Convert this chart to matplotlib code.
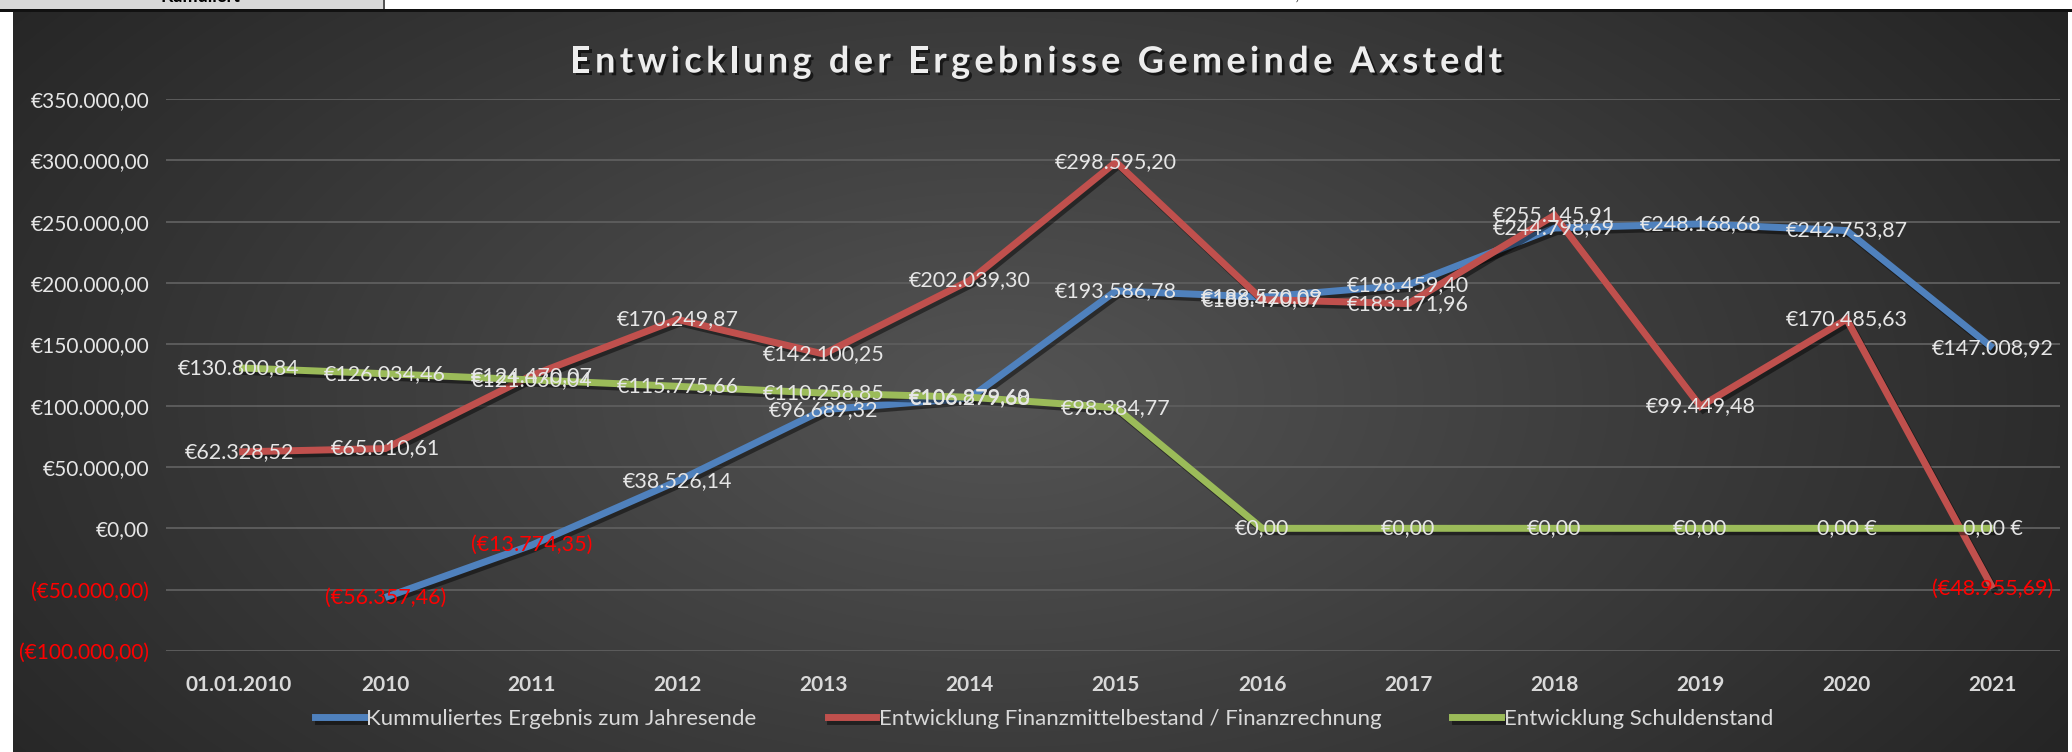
import numpy as np
import matplotlib
matplotlib.use("Agg")
import matplotlib.pyplot as plt
from matplotlib.patches import Rectangle
from matplotlib.lines import Line2D
import matplotlib.patheffects as pe

# ---------------- data ----------------
categories = ["01.01.2010", "2010", "2011", "2012", "2013", "2014", "2015",
              "2016", "2017", "2018", "2019", "2020", "2021"]
kumuliert = [np.nan, -56357.46, -13774.35, 38526.14, 96689.32, 106279.68,
             193586.78, 188520.09, 198459.40, 244798.69, 248168.68,
             242753.87, 147008.92]
finanzmittel = [62328.52, 65010.61, 124470.07, 170249.87, 142100.25,
                202039.30, 298595.20, 186470.07, 183171.96, 255145.91,
                99449.48, 170485.63, -48955.69]
schulden = [130800.84, 126034.46, 121030.04, 115775.66, 110258.85,
            106879.60, 98384.77, 0.0, 0.0, 0.0, 0.0, 0.0, 0.0]
schulden_suffix_format = [False] * 11 + [True] * 2
series_names = ["Kummuliertes Ergebnis zum Jahresende",
                "Entwicklung Finanzmittelbestand / Finanzrechnung",
                "Entwicklung Schuldenstand"]
title = "Entwicklung der Ergebnisse Gemeinde Axstedt"
y_ticks = [-100000, -50000, 0, 50000, 100000, 150000, 200000, 250000,
           300000, 350000]

FONT = ["Lato", "DejaVu Sans"]
plt.rcParams["font.family"] = FONT

W, H = 2072, 752


def de(v):
    s = f"{abs(v):,.2f}"
    return s.replace(",", "X").replace(".", ",").replace("X", ".")


def eur(v, suffix=False):
    if suffix:
        return de(v) + " €"
    if v < 0:
        return "(€" + de(v) + ")"
    if v == 0:
        return "€0,00"
    return "€" + de(v)


fig = plt.figure(figsize=(W / 100, H / 100), dpi=100)
fig.patch.set_facecolor("white")
renderer = fig.canvas.get_renderer()

# ---------------- top strip (spreadsheet remnant) ----------------
fig.add_artist(Rectangle((0, 1 - 9 / H), 383 / W, 9 / H, transform=fig.transFigure,
                         facecolor="#D9D9D9", edgecolor="none"))
fig.add_artist(Rectangle((383 / W, 1 - 9 / H), 1.5 / W, 9 / H, transform=fig.transFigure,
                         facecolor="#555555", edgecolor="none"))
fig.add_artist(Rectangle((0, 1 - 12 / H), 1, 3 / H, transform=fig.transFigure,
                         facecolor="#111111", edgecolor="none"))
fig.text(200 / W, 1 + 4 / H, "Kumuliert", ha="center", va="center",
         fontsize=13, fontweight="bold", color="black")
fig.text(1300 / W, 1 + 5 / H, "300,00 €", ha="center", va="center",
         fontsize=13, color="#333333")

# ---------------- chart background (radial gradient) ----------------
bg = fig.add_axes([13 / W, 0, (2068 - 13) / W, (H - 12) / H])
bg.set_axis_off()
ny, nx = 300, 800
yy, xx = np.mgrid[0:1:ny * 1j, 0:1:nx * 1j]
r = np.sqrt(((xx - 0.48) / 0.62) ** 2 + ((yy - 0.52) / 0.95) ** 2)
r = np.clip(r, 0, 1)
c0 = np.array([0x54, 0x54, 0x54]) / 255
c1 = np.array([0x24, 0x24, 0x24]) / 255
img = c0[None, None, :] * (1 - r[..., None]) + c1[None, None, :] * r[..., None]
bg.imshow(img, aspect="auto", extent=(0, 1, 0, 1), interpolation="bilinear")
bg.set_xlim(0, 1)
bg.set_ylim(0, 1)

# ---------------- main axes ----------------
left_px, right_px, top_px, bot_px = 166, 2060, 99, 651
ax = fig.add_axes([left_px / W, (H - bot_px) / H, (right_px - left_px) / W,
                   (bot_px - top_px) / H])
ax.set_facecolor("none")
x = np.arange(len(categories))
ax.set_xlim(-0.5, 12.46)
ax.set_ylim(-100000, 350000)
for s in ax.spines.values():
    s.set_visible(False)

ax.set_yticks(y_ticks)
ax.set_yticklabels([eur(v) for v in y_ticks])
for lab, v in zip(ax.get_yticklabels(), y_ticks):
    lab.set_color("#FF0000" if v < 0 else "#E6E6E6")
    lab.set_fontsize(15)
ax.tick_params(axis="y", length=0, pad=12)
ax.set_xticks(x)
ax.set_xticklabels(categories, fontweight="bold", fontsize=15, color="#D9D9D9")
ax.tick_params(axis="x", length=0, pad=17)
ax.yaxis.grid(True, color="#5c5c5c", linewidth=1.4)
ax.set_axisbelow(True)

colors = ["#4F81BD", "#C0504D", "#9BBB59"]
shadow = [pe.SimpleLineShadow(offset=(2, -2.5), shadow_color="black", alpha=0.45),
          pe.Normal()]
series = [kumuliert, finanzmittel, schulden]
for vals, col, name in zip(series, colors, series_names):
    ax.plot(x, vals, color=col, linewidth=5, solid_capstyle="butt",
            solid_joinstyle="miter", path_effects=shadow, label=name, zorder=3)

# data labels (centered on points)
for si, vals in enumerate(series):
    for i, v in enumerate(vals):
        if np.isnan(v):
            continue
        suffix = si == 2 and schulden_suffix_format[i]
        ax.text(i, v, eur(v, suffix), ha="center", va="center", fontsize=15.5,
                color="#FF0000" if v < 0 else "#E6E6E6", zorder=5,
                clip_on=False)

# title with letter spacing (drawn character by character)
title_kw = dict(fontsize=26, fontweight="bold", color="#EDEDED", va="center", ha="left",
                path_effects=[pe.withSimplePatchShadow(offset=(2, -2),
                                                       shadow_rgbFace="black", alpha=0.6)])
target_w = 932.0
cx, cy = 1036.0, H - 62.0
widths = []
for ch in title:
    if ch == " ":
        t = fig.text(0, 0, "a a", **title_kw)
        w_full = t.get_window_extent(renderer).width
        t.set_text("aa")
        w = w_full - t.get_window_extent(renderer).width
    else:
        t = fig.text(0, 0, ch, **title_kw)
        w = t.get_window_extent(renderer).width
    t.remove()
    widths.append(w)
spacing = (target_w - sum(widths)) / (len(title) - 1)
xpos = cx - target_w / 2
for ch, w in zip(title, widths):
    if ch != " ":
        fig.text(xpos / W, cy / H, ch, **title_kw)
    xpos += w + spacing

# legend
handles = [Line2D([0], [0], color=c, linewidth=5, path_effects=shadow) for c in colors]
leg = fig.legend(handles, series_names, loc="center", bbox_to_anchor=(1044 / W, 33 / H),
                 ncol=3, frameon=False, fontsize=16, handlelength=2.2,
                 handletextpad=0.1, columnspacing=3.2)
for t in leg.get_texts():
    t.set_color("#D9D9D9")

fig.savefig("out.png", dpi=100, facecolor=fig.get_facecolor())
